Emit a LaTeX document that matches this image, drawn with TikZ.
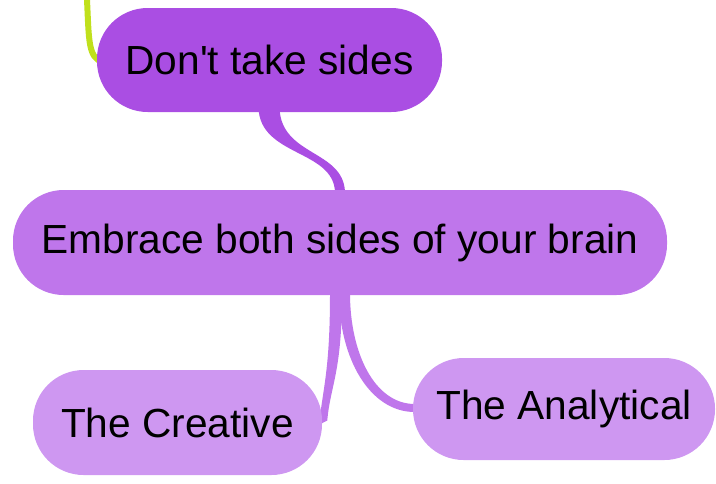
\documentclass[tikz,border=0pt]{standalone}
\usepackage{fontspec}
\setmainfont{Liberation Sans}
\usetikzlibrary{calc,backgrounds}
\definecolor{TopClr}{RGB}{170,78,227}
\definecolor{MidClr}{RGB}{191,118,235}
\definecolor{LeafClr}{RGB}{206,151,241}
\definecolor{UpClr}{RGB}{192,224,28}

\tikzset{
  topic/.style={rectangle,rounded corners=38pt,minimum height=78pt,
    inner sep=0pt,text=black,font=\fontsize{30.5}{36}\selectfont},
}

\begin{document}
\begin{tikzpicture}[x=0.75pt,y=-0.75pt]
\useasboundingbox (0,0) rectangle (716,483);

% topics
\node[topic,fill=TopClr,minimum width=258.75pt] (sides) at (269.5,60) {Don\textquotesingle t take sides};
\node[topic,fill=MidClr,minimum width=490.5pt,minimum height=78.75pt] (brain) at (340,242.5) {Embrace both sides of your brain};
\node[topic,fill=LeafClr,minimum width=216.75pt,minimum height=78.75pt] (creative) at (177.5,422.5) {The Creative};
\node[topic,fill=LeafClr,minimum width=226.5pt,minimum height=76.5pt] (analytical) at (564,409) {The Analytical};

\coordinate (up) at (87,0);

\begin{scope}[on background layer]
% branch from above
\draw[UpClr,line width=4.5pt] (up) .. controls (89,40) and (88,58) .. ($(sides.west)+(6,2)$);

% Step 1. sides -> brain
\fill[TopClr] ($(sides.south)+(-11,-4)$) .. controls +(2,48) and +(-2,-42) .. ($(brain.north)+(-5,2)$)
  -- ($(brain.north)+(5,2)$) .. controls +(-2,-42) and +(2,48) .. ($(sides.south)+(10,-4)$) -- cycle;

% Step 2. brain -> creative
\fill[MidClr] ($(brain.south)+(-10,-2)$) .. controls +(0,80) and +(3,-35) .. ($(creative.east)+(-3,2)$)
  -- ($(creative.east)+(5,-2)$) .. controls +(3,-35) and +(0,80) .. ($(brain.south)+(2,-2)$) -- cycle;

% Step 3. brain -> analytical
\fill[MidClr] ($(brain.south)+(-1,-2)$) .. controls +(0,65) and +(-45,0) .. ($(analytical.west)+(2,3)$)
  -- ($(analytical.west)+(2,-5)$) .. controls +(-40,0) and +(0,60) .. ($(brain.south)+(10,-2)$) -- cycle;
\end{scope}

\end{tikzpicture}
\end{document}
